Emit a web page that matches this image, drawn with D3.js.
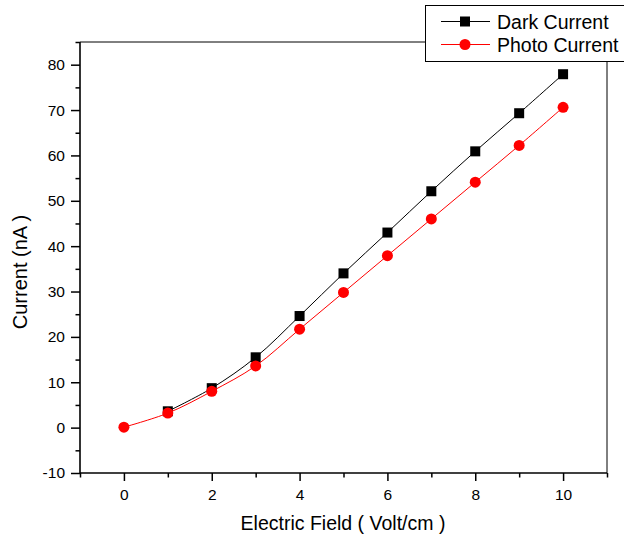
<!DOCTYPE html>
<html><head><meta charset="utf-8">
<script src="https://cdn.jsdelivr.net/npm/d3@7"></script>
<style>body{margin:0;background:#fff}svg{display:block}text{font-family:"Liberation Sans",Arial,sans-serif}
.ax text{font-size:15.5px;font-family:"Liberation Sans",Arial,sans-serif;fill:#000}</style>
</head><body>
<script>
const fieldValues = [0,1,2,3,4,5,6,7,8,9,10];
const darkCurrent = [null,3.6,8.7,15.5,24.6,34.0,43.0,52.1,60.9,69.3,77.9];
const photoCurrent = [0.1,3.2,8.0,13.6,21.7,29.8,37.9,46.0,54.1,62.2,70.6];
const xTickLabels = [0,2,4,6,8,10];
const yTickLabels = [-10,0,10,20,30,40,50,60,70,80];
const seriesNames = ["Dark Current","Photo Current"];

const W=624,H=539;
const m={l:80,r:607,t:42,b:473};
const svg=d3.select("body").append("svg").attr("width",W).attr("height",H);
const x=d3.scaleLinear().domain([-1,11]).range([m.l,m.r]);
const y=d3.scaleLinear().domain([-10,85]).range([m.b,m.t]);

// frame
svg.append("line").attr("x1",m.l).attr("x2",m.r).attr("y1",m.t).attr("y2",m.t).attr("stroke","#000").attr("stroke-width",1);
svg.append("line").attr("x1",m.r).attr("x2",m.r).attr("y1",m.t).attr("y2",m.b).attr("stroke","#000").attr("stroke-width",1);
svg.append("line").attr("x1",m.l).attr("x2",m.r).attr("y1",m.b).attr("y2",m.b).attr("stroke","#000").attr("stroke-width",1.6);
svg.append("line").attr("x1",m.l).attr("x2",m.l).attr("y1",m.t).attr("y2",m.b).attr("stroke","#000").attr("stroke-width",1.6);

const fmt=d=>String(d);
// x axis
svg.append("g").attr("class","ax").attr("transform",`translate(0,${m.b})`)
  .call(d3.axisBottom(x).tickValues(xTickLabels).tickSize(8).tickPadding(8).tickFormat(fmt));
svg.append("g").attr("class","ax").attr("transform",`translate(0,${m.b})`)
  .call(d3.axisBottom(x).tickValues(d3.range(-1,12,1).filter(v=>!xTickLabels.includes(v))).tickSize(4.5).tickFormat(""));
// y axis
svg.append("g").attr("class","ax").attr("transform",`translate(${m.l},0)`)
  .call(d3.axisLeft(y).tickValues(yTickLabels).tickSize(9).tickPadding(6).tickFormat(fmt));
svg.append("g").attr("class","ax").attr("transform",`translate(${m.l},0)`)
  .call(d3.axisLeft(y).tickValues(d3.range(-5,90,10)).tickSize(4.5).tickFormat(""));
svg.selectAll(".ax").attr("font-size",15.5).attr("font-family","Liberation Sans, Arial, sans-serif");
svg.selectAll(".domain").remove();
svg.selectAll(".tick line").attr("stroke","#000").attr("stroke-width",1.5);
svg.selectAll(".tick text").attr("font-size",15.5).attr("fill","#000");

// titles
svg.append("text").attr("x",343).attr("y",530).attr("text-anchor","middle").style("font-size","19.5px").text("Electric Field ( Volt/cm )");
svg.append("text").attr("transform",`translate(27,272) rotate(-90)`).attr("text-anchor","middle").style("font-size","20px").text("Current (nA )");

const line=d3.line().defined(d=>d!=null).curve(d3.curveCatmullRom).x((d,i)=>x(fieldValues[i])).y(d=>y(d));
// dark series
svg.append("path").datum(darkCurrent).attr("d",line).attr("fill","none").attr("stroke","#000").attr("stroke-width",1);
svg.append("g").selectAll("rect").data(darkCurrent.map((v,i)=>({v,i})).filter(d=>d.v!=null)).join("rect")
  .attr("x",d=>x(fieldValues[d.i])-5).attr("y",d=>y(d.v)-5).attr("width",10).attr("height",10).attr("fill","#000");
// photo series
svg.append("path").datum(photoCurrent).attr("d",line).attr("fill","none").attr("stroke","#ff0000").attr("stroke-width",1);
svg.append("g").selectAll("circle").data(photoCurrent).join("circle")
  .attr("cx",(d,i)=>x(fieldValues[i])).attr("cy",d=>y(d)).attr("r",5.5).attr("fill","#ff0000");

// legend
const lg=svg.append("g");
lg.append("rect").attr("x",425.5).attr("y",5.5).attr("width",240).attr("height",56).attr("fill","#fff").attr("stroke","#000").attr("stroke-width",1);
const rows=[{n:seriesNames[0],c:"#000",s:"sq",yy:21.5},{n:seriesNames[1],c:"#ff0000",s:"ci",yy:44.5}];
rows.forEach(r=>{
  lg.append("line").attr("x1",441).attr("x2",490).attr("y1",r.yy).attr("y2",r.yy).attr("stroke",r.c).attr("stroke-width",1);
  if(r.s==="sq") lg.append("rect").attr("x",460).attr("y",r.yy-5).attr("width",10).attr("height",10).attr("fill",r.c);
  else lg.append("circle").attr("cx",465).attr("cy",r.yy).attr("r",5.5).attr("fill",r.c);
  lg.append("text").attr("x",497).attr("y",r.yy+7).style("font-size","19.5px").text(r.n);
});
</script>
</body></html>
